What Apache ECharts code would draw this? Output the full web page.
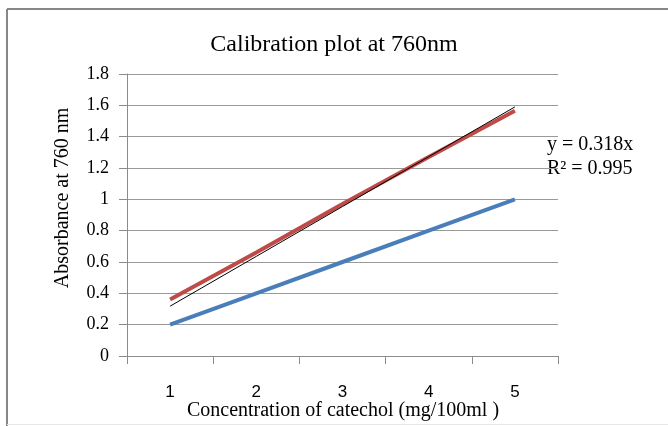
<!DOCTYPE html>
<html><head><meta charset="utf-8">
<script src="https://cdn.jsdelivr.net/npm/echarts@6/dist/echarts.min.js"></script>
<style>html,body{margin:0;padding:0;background:#fff}#c{width:668px;height:426px}</style>
</head><body><div id="c"></div>
<script>
const categories = ['1', '2', '3', '4', '5'];
const blueValues = [0.2, 0.4, 0.6, 0.8, 1.0];
const redValues = [0.36, 0.66, 0.97, 1.27, 1.565];
const trendValues = [0.318, 0.636, 0.954, 1.272, 1.59];
const yTicks = { min: 0, max: 1.8, interval: 0.2 };
const titleText = 'Calibration plot at 760nm';
const yName = 'Absorbance at 760 nm';
const xName = 'Concentration of catechol (mg/100ml )';
const eqLines = ['y = 0.318x', 'R² = 0.995'];

const chart = echarts.init(document.getElementById('c'));
const serif = '"Liberation Serif", "Times New Roman", serif';
chart.setOption({
  animation: false,
  title: { text: titleText, left: 'center', top: 28,
    textStyle: { fontFamily: serif, fontWeight: 'normal', fontSize: 24, color: '#000' } },
  grid: { left: 127, right: 110, top: 74, bottom: 70, outerBoundsMode: 'none', containLabel: false },
  xAxis: {
    type: 'category', data: categories, boundaryGap: true,
    axisLine: { lineStyle: { color: '#8c8c8c', width: 1 } },
    axisTick: { show: true, length: 8, alignWithLabel: false, lineStyle: { color: '#8c8c8c' } },
    axisLabel: { fontFamily: '"Liberation Sans", Arial, sans-serif', fontSize: 17, color: '#000', margin: 28 }
  },
  yAxis: {
    type: 'value', min: yTicks.min, max: yTicks.max, interval: yTicks.interval,
    axisLine: { show: true, lineStyle: { color: '#8c8c8c', width: 1 } },
    axisTick: { show: true, length: 8, lineStyle: { color: '#8c8c8c' } },
    axisLabel: { fontFamily: serif, fontSize: 18, color: '#000', margin: 18,
      formatter: v => String(Math.round(v * 10) / 10) },
    splitLine: { lineStyle: { color: '#9a9a9a', width: 1 } }
  },
  series: [
    { type: 'line', data: blueValues, showSymbol: false, lineStyle: { color: '#4a7ebb', width: 4 } },
    { type: 'line', data: redValues, showSymbol: false, lineStyle: { color: '#be4b48', width: 4 } },
    { type: 'line', data: trendValues, showSymbol: false, lineStyle: { color: '#000', width: 1 } }
  ],
  graphic: [
    { type: 'line', shape: { x1: 7, y1: 9, x2: 668, y2: 9 }, style: { stroke: '#878787', lineWidth: 2 } },
    { type: 'line', shape: { x1: 7, y1: 9, x2: 7, y2: 426 }, style: { stroke: '#878787', lineWidth: 2 } },
    { type: 'line', shape: { x1: 7, y1: 424.5, x2: 668, y2: 424.5 }, style: { stroke: '#e6e6e6', lineWidth: 1 } },
    { type: 'text', x: 63, y: 198, rotation: Math.PI / 2,
      style: { text: yName, font: '20px ' + serif, fill: '#000', textAlign: 'center', textVerticalAlign: 'middle' } },
    { type: 'text', x: 343, y: 411,
      style: { text: xName, font: '20px ' + serif, fill: '#000', textAlign: 'center', textVerticalAlign: 'middle' } },
    { type: 'text', left: 547, top: 133, style: { text: eqLines.join('\n'), font: '20px ' + serif, fill: '#000', lineHeight: 24 } }
  ]
});
</script></body></html>
